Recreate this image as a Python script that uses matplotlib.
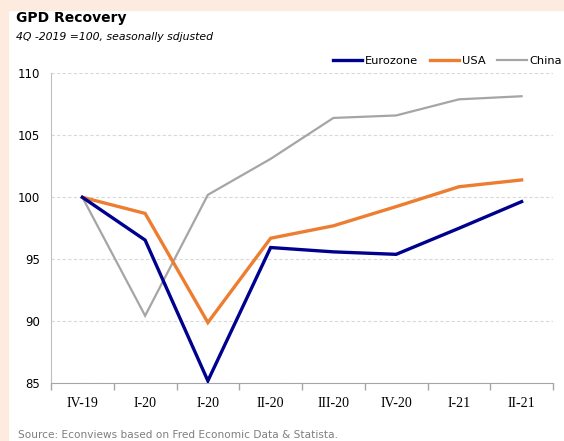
import matplotlib.pyplot as plt
from matplotlib.patches import Rectangle
import numpy as np

quarters = ["IV-19", "I-20", "I-20", "II-20", "III-20", "IV-20", "I-21", "II-21"]
eurozone = [100.0, 96.55, 85.2, 95.95, 95.6, 95.4, 97.5, 99.65]
usa = [100.0, 98.7, 89.9, 96.7, 97.7, 99.25, 100.85, 101.4]
china = [100.0, 90.45, 100.2, 103.1, 106.4, 106.6, 107.9, 108.15]

fig = plt.figure(figsize=(5.64, 4.41), dpi=100)
fig.patch.set_facecolor("white")
# peach frame on the left and top edges
fig.patches.append(Rectangle((0, 0), 8 / 564, 1, transform=fig.transFigure, color="#FDEBDF", zorder=0))
fig.patches.append(Rectangle((0, 1 - 10 / 441), 1, 10 / 441, transform=fig.transFigure, color="#FDEBDF", zorder=0))

ax = fig.add_axes([51 / 564, 57.7 / 441, 502 / 564, 310 / 441])
x = np.arange(len(quarters))
ax.plot(x, eurozone, color="#00008F", lw=2.4, label="Eurozone", solid_joinstyle="miter", zorder=4)
ax.plot(x, usa, color="#ED7D31", lw=2.4, label="USA", solid_joinstyle="miter", zorder=3)
ax.plot(x, china, color="#A5A5A5", lw=1.6, label="China", solid_joinstyle="miter", zorder=2)

ax.set_xlim(-0.5, len(quarters) - 0.5)
ax.set_ylim(85, 110)
ax.set_yticks(range(85, 111, 5))
ax.yaxis.grid(True, color="#D9D9D9", ls=(0, (3, 2)), lw=0.8)
ax.set_axisbelow(True)
ax.tick_params(axis="y", length=0, labelsize=8.5, pad=8)
for lab in ax.get_yticklabels():
    lab.set_fontfamily("DejaVu Sans")

ax.set_xticks(np.arange(-0.5, len(quarters), 1))
ax.set_xticklabels([])
ax.set_xticks(x, minor=True)
ax.set_xticklabels(quarters, minor=True, fontfamily="Liberation Serif", fontsize=10)
ax.tick_params(axis="x", which="major", length=5, color="#A6A6A6", width=1)
ax.tick_params(axis="x", which="minor", length=0, pad=10)

for s in ["top", "right"]:
    ax.spines[s].set_visible(False)
ax.spines["left"].set_color("#BFBFBF")
ax.spines["bottom"].set_color("#A6A6A6")

ax.legend(loc="center right", bbox_to_anchor=(562 / 564, 1 - 61 / 441), bbox_transform=fig.transFigure,
          ncol=3, frameon=False, fontsize=8.2, handlelength=2.6, handletextpad=0.25,
          columnspacing=1.0, borderaxespad=0, borderpad=0)

fig.text(16 / 564, 1 - 18 / 441, "GPD Recovery", fontsize=10, fontweight="bold", va="center")
fig.text(16 / 564, 1 - 37 / 441, "4Q -2019 =100, seasonally sdjusted", fontsize=7.8, style="italic", va="center")
fig.text(18 / 564, 1 - 435 / 441, "Source: Econviews based on Fred Economic Data & Statista.",
         fontsize=7.6, color="#7F7F7F", va="center")

fig.savefig("out.png", dpi=100)
